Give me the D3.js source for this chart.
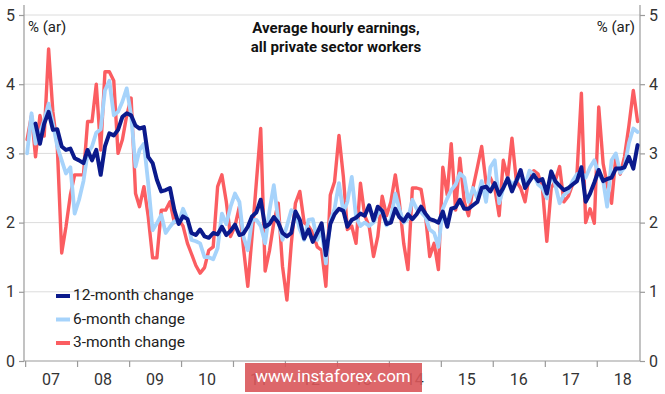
<!DOCTYPE html>
<html>
<head>
<meta charset="utf-8">
<script src="https://cdn.jsdelivr.net/npm/d3@7"></script>
<style>
  html, body { margin: 0; padding: 0; background: #fff; }
  svg { display: block; }
  text { font-family: Roboto, "Noto Sans", sans-serif; }
</style>
</head>
<body>
<svg id="chart" width="665" height="394"></svg>
<script>
// ---- data (monthly, Jan 2007 .. Oct 2018), % annualised ----
const startMonth = "2007-01";
const twelveMonth = [
  null, null, 3.43, 3.14, 3.43, 3.6, 3.34, 3.35, 3.1, 3.05, 3.07, 2.93,
  2.9, 2.86, 3.05, 2.9, 3.05, 2.69, 3.1, 3.29, 3.26, 3.34, 3.53, 3.58,
  3.55, 3.4, 3.36, 3.38, 2.95, 2.86, 2.62, 2.45, 2.47, 2.5, 2.18, 1.98,
  2.09, 2.05, 1.85, 1.82, 1.9, 1.8, 1.78, 1.85, 1.83, 1.94, 1.82, 1.88,
  1.97, 1.82, 1.84, 1.94, 2.09, 2.15, 2.33, 1.94, 1.98, 2.08, 2.0, 1.85,
  1.8, 1.85, 2.16, 2.04, 1.77, 1.9, 1.72, 1.85, 1.99, 1.53, 1.98, 2.12,
  2.2, 2.17, 1.94, 2.04, 2.07, 2.13, 2.1, 2.25, 2.03, 2.23, 2.17, 1.98,
  2.0, 2.2, 2.08, 2.02, 2.12, 2.05, 2.12, 2.23, 2.13, 2.05, 2.03, 2.0,
  2.16, 1.94, 2.2, 2.22, 2.33, 2.2, 2.2, 2.25, 2.3, 2.5, 2.52, 2.45,
  2.57, 2.4, 2.5, 2.64, 2.45, 2.6, 2.76, 2.5, 2.6, 2.69, 2.6, 2.63,
  2.42, 2.74, 2.6, 2.53, 2.47, 2.5, 2.55, 2.6, 2.8, 2.3, 2.42, 2.58,
  2.76, 2.6, 2.63, 2.65, 2.78, 2.78, 2.8, 2.95, 2.78, 3.12
];
const sixMonth = [
  3.0, 3.58, 3.14, 3.29, 3.48, 3.72, 3.43, 3.1, 2.9, 2.71, 2.8, 2.13,
  2.33, 2.6, 3.0, 3.1, 3.3, 3.35, 3.91, 4.05, 3.55, 3.6, 3.75, 3.94,
  3.55, 2.81, 3.05, 3.14, 2.57, 1.89, 1.99, 2.11, 1.85, 1.94, 2.02, 2.0,
  2.2, 2.05, 1.75, 1.73, 1.7, 1.5, 1.5, 1.47, 1.63, 2.13, 1.98, 2.23,
  2.42, 2.3, 1.8, 1.6, 2.04, 2.04, 1.95, 1.7, 2.18, 2.54, 2.04, 1.75,
  1.95, 2.18, 2.15, 1.9, 1.75, 2.04, 2.05, 1.75, 1.9, 1.41, 2.02, 2.2,
  2.57, 2.15, 2.3, 2.66, 2.08, 1.95, 2.0, 1.95, 2.0, 2.13, 2.17, 1.96,
  2.05, 2.42, 2.2, 2.0, 2.05, 2.33, 2.2, 2.15, 2.08, 1.9, 1.85, 1.65,
  2.2, 2.35, 2.47, 2.55, 2.71, 2.65, 2.3, 2.5, 2.35, 2.6, 2.3, 2.8,
  2.9, 2.28, 2.5, 2.64, 2.55, 2.6, 2.7, 2.52, 2.75, 2.7, 2.55, 2.5,
  2.35, 2.73, 2.55, 2.28, 2.4, 2.45, 2.6, 2.7, 2.72, 2.65, 2.8, 2.9,
  2.7, 2.6, 2.23, 2.9, 3.0, 2.72, 2.8, 3.15, 3.36, 3.31
];
const threeMonth = [
  3.2, 3.55, 2.95, 3.55, 3.25, 4.51, 3.6, 3.1, 1.56, 1.94, 2.4, 2.69,
  2.69, 2.69, 3.46, 3.46, 4.0, 3.05, 4.18, 4.18, 4.05, 3.0, 3.2, 3.55,
  3.8, 2.42, 2.23, 2.52, 2.09, 1.49, 1.49, 2.18, 2.18, 2.3, 2.0, 2.04,
  1.95, 1.7, 1.55, 1.38, 1.27, 1.35, 1.6, 1.65, 2.52, 2.69, 2.3, 1.8,
  1.95, 2.23, 1.65, 1.08, 1.8, 2.6, 3.36, 1.3, 1.6, 2.0, 2.28, 1.37,
  0.88, 1.7, 2.28, 2.45, 2.0, 1.95, 1.85, 1.65, 1.6, 1.08, 2.4, 2.59,
  3.26, 2.66, 1.9, 1.95, 1.7, 2.57, 2.1, 1.95, 1.51, 1.8, 2.38, 2.1,
  2.3, 2.69, 2.3, 1.7, 1.32, 2.5, 2.5, 2.48, 2.1, 1.51, 1.7, 1.32,
  2.8, 2.4, 3.14, 2.18, 2.93, 2.3, 2.1, 2.5, 2.8, 3.1, 2.57, 2.65,
  2.5, 2.1, 2.9, 2.65, 3.22, 2.6, 2.5, 2.3, 2.7, 2.75, 2.7, 2.5,
  1.73, 2.5, 2.6, 2.81, 2.3, 2.38, 2.55, 2.7, 3.87, 2.0, 2.2, 1.99,
  3.67, 2.85, 2.55, 2.28, 2.95, 2.7, 2.95, 3.4, 3.91, 3.46
];
const yearTicks = [2007, 2008, 2009, 2010, 2011, 2012, 2013, 2014, 2015, 2016, 2017, 2018];
const yearLabels = ["07", "08", "09", "10", "11", "12", "13", "14", "15", "16", "17", "18"];
const yTicks = [0, 1, 2, 3, 4, 5];
const seriesNames = ["12-month change", "6-month change", "3-month change"];
const seriesColors = ["#0b1a8c", "#a6d3fb", "#fb5d61"];

// ---- layout ----
const svg = d3.select("#chart");
const pL = 24, pR = 640, pT = 15, pB = 361;

const parseMonth = d3.timeParse("%Y-%m");
const months = d3.range(threeMonth.length).map(i => {
  const d = d3.timeMonth.offset(parseMonth(startMonth), i);
  return new Date(d.getFullYear(), d.getMonth(), 15);
});

const x = d3.scaleTime()
  .domain([new Date(2006, 11, 24), new Date(2018, 10, 1)])
  .range([pL, pR]);
const y = d3.scaleLinear().domain([0, 5]).range([pB, pT]);

// gridlines
svg.append("g")
  .selectAll("line")
  .data(yTicks.filter(v => v > 0))
  .join("line")
  .attr("x1", pL).attr("x2", pR)
  .attr("y1", d => y(d)).attr("y2", d => y(d))
  .attr("stroke", "#dcdcdc").attr("stroke-width", 1);

// left / right axis lines
const axisColor = "#9a9a9a";
[pL, pR].forEach(xx => {
  svg.append("line")
    .attr("x1", xx).attr("x2", xx)
    .attr("y1", 5).attr("y2", pB)
    .attr("stroke", axisColor).attr("stroke-width", 1.2);
});

// y axes (left & right)
const yAxisL = d3.axisLeft(y).tickValues(yTicks).tickSize(5).tickPadding(4).tickFormat(d3.format("d"));
const yAxisR = d3.axisRight(y).tickValues(yTicks).tickSize(5).tickPadding(4).tickFormat(d3.format("d"));
const gL = svg.append("g").attr("transform", `translate(${pL},0)`).call(yAxisL);
const gR = svg.append("g").attr("transform", `translate(${pR},0)`).call(yAxisR);
[gL, gR].forEach(g => {
  g.select(".domain").remove();
  g.selectAll(".tick line").attr("stroke", axisColor).attr("stroke-width", 1.2);
  g.selectAll(".tick text")
    .attr("fill", "#333")
    .style("font-size", "16px")
    .style("font-family", "Roboto, sans-serif");
});

// x axis
const xAxis = d3.axisBottom(x)
  .tickValues(yearTicks.map(yr => new Date(yr, 0, 1)))
  .tickSize(6).tickFormat("");
const gX = svg.append("g").attr("transform", `translate(0,${pB})`).call(xAxis);
gX.select(".domain").attr("stroke", axisColor).attr("stroke-width", 1.2)
  .attr("d", `M${pL},0H${pR}`);
gX.selectAll(".tick line").attr("stroke", axisColor).attr("stroke-width", 1.2);

svg.append("g")
  .selectAll("text")
  .data(yearTicks)
  .join("text")
  .attr("x", (d) => (x(new Date(d, 0, 1)) + x(new Date(d + 1, 0, 1))) / 2)
  .attr("y", 381)
  .attr("text-anchor", "middle")
  .attr("dominant-baseline", "middle")
  .attr("fill", "#333")
  .style("font-size", "16px")
  .text((d, i) => yearLabels[i]);

// lines
const line = d3.line()
  .defined(d => d.v != null)
  .x(d => x(d.date))
  .y(d => y(d.v));

const seriesData = [twelveMonth, sixMonth, threeMonth].map(arr =>
  arr.map((v, i) => ({ date: months[i], v })));

[2, 1, 0].forEach(i => {
  svg.append("path")
    .datum(seriesData[i])
    .attr("fill", "none")
    .attr("stroke", seriesColors[i])
    .attr("stroke-width", i === 0 ? 4 : (i === 1 ? 3.8 : 3.4))
    .attr("stroke-linejoin", "round")
    .attr("stroke-linecap", "round")
    .attr("d", line);
});

// unit labels
svg.append("text").attr("x", 28).attr("y", 28)
  .attr("dominant-baseline", "middle").attr("fill", "#222")
  .style("font-size", "15px").text("% (ar)");
svg.append("text").attr("x", 635).attr("y", 28)
  .attr("text-anchor", "end").attr("dominant-baseline", "middle").attr("fill", "#222")
  .style("font-size", "15px").text("% (ar)");

// title
const title = svg.append("text").attr("text-anchor", "middle")
  .attr("fill", "#111").style("font-size", "15px").style("font-weight", "700");
title.append("tspan").attr("x", 336).attr("y", 33).text("Average hourly earnings,");
title.append("tspan").attr("x", 336).attr("y", 52).text("all private sector workers");

// legend
const legend = svg.append("g");
seriesNames.forEach((name, i) => {
  const ly = 296 + i * 23.5;
  legend.append("line")
    .attr("x1", 56).attr("x2", 70).attr("y1", ly).attr("y2", ly)
    .attr("stroke", seriesColors[i]).attr("stroke-width", 4);
  legend.append("text")
    .attr("x", 73).attr("y", ly)
    .attr("dominant-baseline", "middle").attr("fill", "#222")
    .style("font-size", "15.5px").text(name);
});

// watermark
svg.append("rect")
  .attr("x", 245).attr("y", 363).attr("width", 177).attr("height", 29)
  .attr("fill", "#d9575a").attr("opacity", 0.9);
svg.append("text")
  .attr("x", 333).attr("y", 378)
  .attr("text-anchor", "middle").attr("dominant-baseline", "middle")
  .attr("fill", "#fff").style("font-size", "17px")
  .text("www.instaforex.com");
</script>
</body>
</html>
